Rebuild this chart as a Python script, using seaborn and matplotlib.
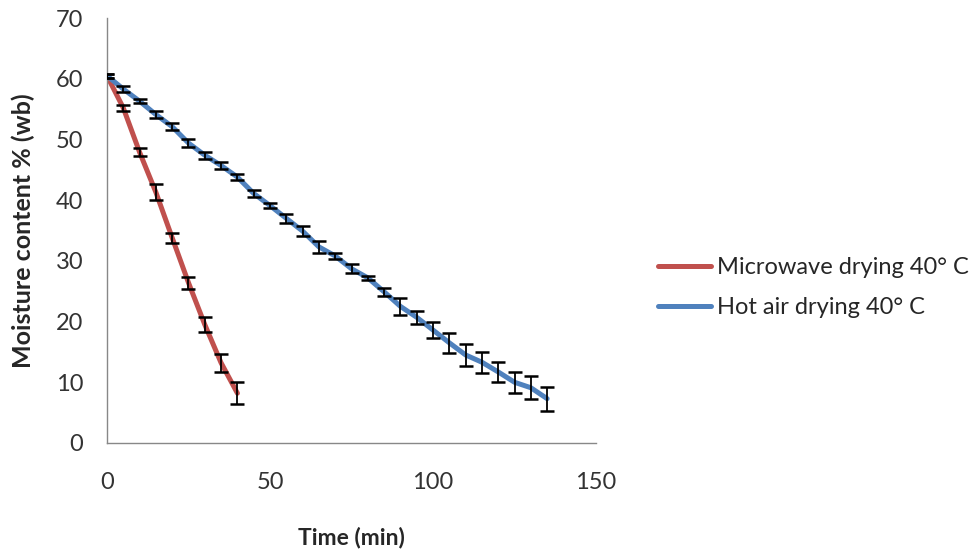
import numpy as np
import pandas as pd
import seaborn as sns
import matplotlib.pyplot as plt

# drying curves
mw_time = [0, 5, 10, 15, 20, 25, 30, 35, 40]
mw_moisture = [60.5, 55.2, 47.9, 41.3, 33.8, 26.4, 19.5, 13.2, 8.2]
mw_err = [0.3, 0.5, 0.65, 1.3, 0.8, 1.0, 1.2, 1.5, 1.8]

ha_time = [0, 5, 10, 15, 20, 25, 30, 35, 40, 45, 50, 55, 60, 65, 70,
           75, 80, 85, 90, 95, 100, 105, 110, 115, 120, 125, 130, 135]
ha_moisture = [60.5, 58.3, 56.3, 54.1, 52.1, 49.4, 47.4, 45.7, 43.8, 41.1,
               39.1, 37.0, 34.9, 32.3, 30.8, 28.7, 27.2, 24.9, 22.5, 20.7,
               18.6, 16.5, 14.5, 13.3, 11.7, 10.0, 9.1, 7.3]
ha_err = [0.3, 0.5, 0.3, 0.6, 0.55, 0.6, 0.6, 0.6, 0.5, 0.55, 0.4, 0.7,
          0.8, 1.0, 0.5, 0.7, 0.35, 0.65, 1.4, 1.05, 1.3, 1.6, 1.8, 1.7,
          1.6, 1.7, 1.9, 2.0]

labels = ['Microwave drying 40° C', 'Hot air drying 40° C']
colors = ['#C0504D', '#4F81BD']

df = pd.concat([
    pd.DataFrame({'time': mw_time, 'mc': mw_moisture, 'err': mw_err, 'method': labels[0]}),
    pd.DataFrame({'time': ha_time, 'mc': ha_moisture, 'err': ha_err, 'method': labels[1]}),
])

sns.set_style('white')
plt.rcParams['font.family'] = ['Lato', 'DejaVu Sans']

fig = plt.figure(figsize=(9.76, 5.54), dpi=100)
ax = fig.add_axes([0.1096, 0.2004, 0.5011, 0.7671])

sns.lineplot(data=df, x='time', y='mc', hue='method', palette=colors,
             linewidth=3.6, ax=ax, legend=True, zorder=2)

for name in labels:
    sub = df[df['method'] == name]
    ax.errorbar(sub['time'], sub['mc'], yerr=sub['err'], fmt='none',
                ecolor='black', elinewidth=1.3, capsize=5, capthick=1.8, zorder=3)

ax.set_xlim(0, 150)
ax.set_ylim(0, 70)
ax.set_xticks([0, 50, 100, 150])
ax.set_yticks(range(0, 71, 10))
ax.tick_params(axis='both', labelsize=17, colors='#333333', length=5,
               width=1, direction='out', color='#888888')
ax.tick_params(axis='y', pad=12)
ax.tick_params(axis='x', pad=16)
for s in ['top', 'right']:
    ax.spines[s].set_visible(False)
for s in ['left', 'bottom']:
    ax.spines[s].set_color('#888888')
    ax.spines[s].set_linewidth(1)

ax.set_xlabel('Time (min)', fontsize=16.5, fontweight='bold')
ax.set_ylabel('Moisture content % (wb)', fontsize=18, fontweight='bold')
ax.xaxis.set_label_coords(0.5, -0.198)
ax.yaxis.set_label_coords(-0.147, 0.5)

handles, _ = ax.get_legend_handles_labels()
ax.legend_.remove()
fig.legend(handles, labels, loc='center left', bbox_to_anchor=(0.652, 0.481),
           frameon=False, fontsize=17, handlelength=2.25, handletextpad=0.25,
           labelspacing=0.8)

fig.savefig('out.png', dpi=100)
